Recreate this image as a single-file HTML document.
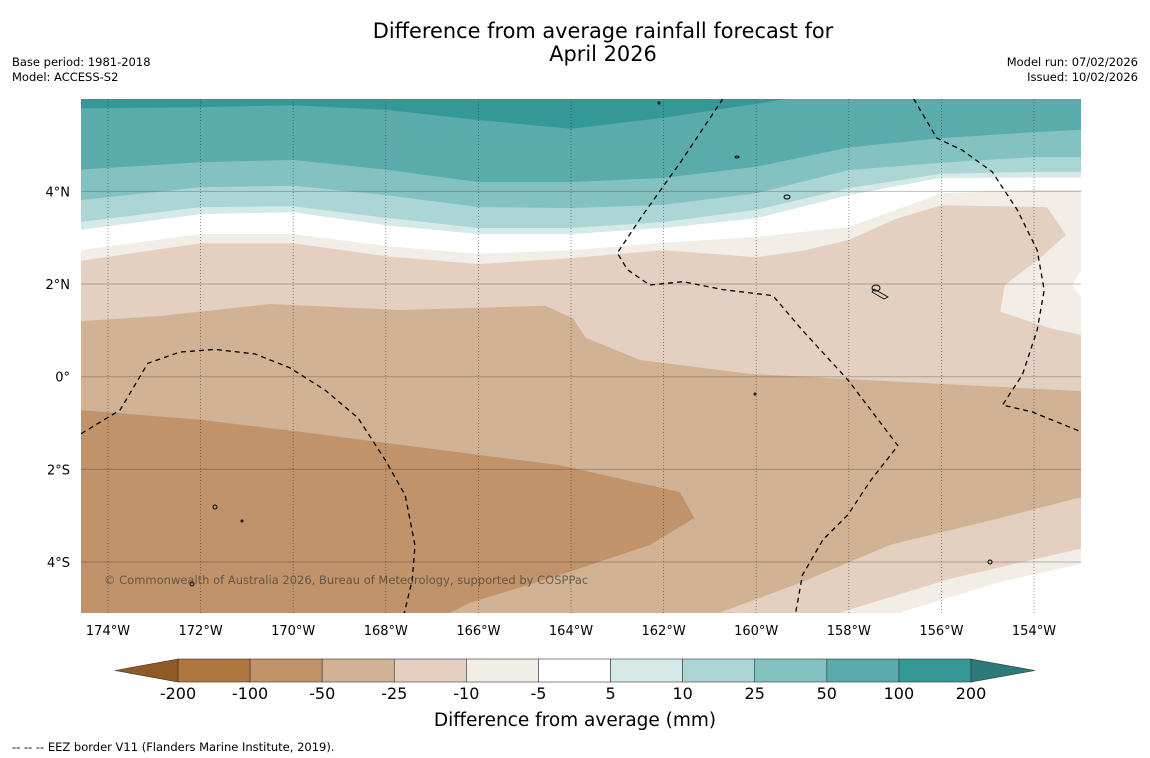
<!DOCTYPE html>
<html><head><meta charset="utf-8"><style>
body{margin:0;background:#fff;font-family:"Liberation Sans","DejaVu Sans",sans-serif;}
svg{display:block}
</style></head><body>
<svg id="s" width="1150" height="758" viewBox="0 0 1150 758" xmlns="http://www.w3.org/2000/svg" font-family="DejaVu Sans, Liberation Sans, sans-serif">
<rect width="1150" height="758" fill="#fff"/>
<text x="603" y="38" font-size="20.9" text-anchor="middle">Difference from average rainfall forecast for</text>
<text x="603" y="61" font-size="20.9" text-anchor="middle">April 2026</text>
<text x="12" y="66" font-size="11.5">Base period: 1981-2018</text>
<text x="12" y="81" font-size="11.5">Model: ACCESS-S2</text>
<text x="1138" y="66" font-size="11.5" text-anchor="end">Model run: 07/02/2026</text>
<text x="1138" y="81" font-size="11.5" text-anchor="end">Issued: 10/02/2026</text>
<defs><clipPath id="mc"><rect x="81" y="99" width="1000" height="514"/></clipPath></defs>
<g id="map" clip-path="url(#mc)"></g>
<g id="axes"></g>
<g id="cbar"></g>
<text x="575" y="726" font-size="18.5" text-anchor="middle">Difference from average (mm)</text>
<text x="12" y="751" font-size="11.5">--  --  -- EEZ border V11 (Flanders Marine Institute, 2019).</text>
</svg>
<script>
const levels=[-200,-100,-50,-25,-10,-5,5,10,25,50,100,200];
const binColors=["#b07840","#c0936a","#d2b294","#e3d0c0","#f2ede7","#ffffff","#d5e9e8","#acd6d5","#84c2c1","#5aabab","#339896"];
const extLow="#8f5a24", extHigh="#2d7a7a";
const baseColor="#c0936a";
// contour curves: region above (north of) curve has value >= level
const cLevels=[-50,-25,-10,-5,5,10,25,50,100];
const cColors=["#d2b294","#e3d0c0","#f2ede7","#ffffff","#d5e9e8","#acd6d5","#84c2c1","#5aabab","#339896"];
const cLons=[
 [-174.58,-172.01,-169.85,-165.97,-164.24,-161.65,-161.34,-162.29,-164.24,-166.18,-166.83],
 [-174.58,-172.88,-170.5,-167.69,-164.56,-163.96,-163.68,-162.51,-160.13,-156.89,-152.98],
 [-174.6,-172,-170,-168,-166,-164,-162,-160,-159,-158,-157,-156,-153.72,-153.31,-153.87,-154.63,-154.73,-153.65,-152.98],
 [-174.6,-172,-170,-168,-166,-164,-162,-160,-158,-156,-154,-152.98],
 [-174.6,-172,-170,-168,-166,-164,-162,-160,-158,-156,-154,-152.98],
 [-174.6,-172,-170,-168,-166,-164,-162,-160,-158,-156,-154,-152.98],
 [-174.6,-172,-170,-168,-166,-164,-162,-160,-158,-156,-154,-152.98],
 [-174.6,-172,-170,-168,-166,-164,-162,-160,-158,-156,-154,-152.98],
 [-174.6,-172,-170,-168,-166,-164,-162,-160,-158,-156,-154,-152.98]
];
const cLats=[
 [-0.72,-0.93,-1.19,-1.69,-1.91,-2.49,-3.05,-3.63,-4.28,-4.88,-5.2],
 [1.20,1.31,1.57,1.44,1.53,1.26,0.84,0.36,0.06,-0.11,-0.31],
 [2.50,2.88,2.88,2.60,2.43,2.56,2.73,2.58,2.72,2.95,3.40,3.70,3.66,3.06,2.56,1.98,1.40,1.05,0.90],
 [2.73,3.08,3.08,2.82,2.65,2.73,2.89,3.02,3.23,3.96,4.03,4.03],
 [3.17,3.51,3.55,3.27,3.08,3.08,3.21,3.42,3.92,4.29,4.30,4.30],
 [3.34,3.66,3.68,3.43,3.21,3.21,3.34,3.60,4.07,4.38,4.42,4.42],
 [3.81,4.09,4.12,3.92,3.66,3.64,3.71,3.96,4.46,4.62,4.74,4.74],
 [4.47,4.63,4.68,4.47,4.20,4.20,4.29,4.53,4.95,5.15,5.28,5.33],
 [5.79,5.82,5.86,5.76,5.54,5.35,5.59,5.89,6.2,6.2,6.2,6.2]
];
// bottom-right patches (region south-east of curve)
const pColors=["#e3d0c0","#f2ede7","#ffffff"];
const pLons=[[-160.78,-159.05,-157.11,-154.73,-152.98],[-158.19,-155.81,-152.98],[-156.89,-154.73,-152.98]];
const pLats=[[-5.09,-4.45,-3.63,-3.05,-2.60],[-5.09,-4.36,-3.71],[-5.09,-4.43,-4.04]];
const notchLons=[-152.98,-153.18,-152.98], notchLats=[2.30,1.98,1.70];
const xTicks=[-174,-172,-170,-168,-166,-164,-162,-160,-158,-156,-154];
const yTicks=[4,2,0,-2,-4];
const eez1Lon=[-174.58,-173.74,-173.14,-172.45,-171.69,-170.82,-170.07,-169.31,-168.6,-168.01,-167.58,-167.37,-167.43,-167.6];
const eez1Lat=[-1.23,-0.72,0.29,0.53,0.59,0.49,0.19,-0.29,-0.89,-1.80,-2.56,-3.64,-4.39,-5.1];
const eez2Lon=[-160.72,-161.6,-162.45,-163.0,-162.78,-162.3,-161.58,-160.72,-159.64,-159.0,-158.02,-156.94,-157.52,-158.02,-158.56,-159.0,-159.15];
const eez2Lat=[6.0,4.68,3.49,2.67,2.31,1.98,2.05,1.88,1.75,1.00,-0.07,-1.49,-2.23,-2.98,-3.52,-4.28,-5.1];
const eez3Lon=[-156.6,-156.1,-155.55,-154.9,-154.36,-153.93,-153.78,-153.93,-154.25,-154.68,-154.04,-152.98];
const eez3Lat=[6.0,5.15,4.89,4.42,3.60,2.73,1.87,1.01,0.04,-0.61,-0.76,-1.19];
const NS="http://www.w3.org/2000/svg";
const xs=lon=>108+(lon+174)*46.3;
const ys=lat=>376.7-lat*46.33;
function mk(tag,attrs,parent){const e=document.createElementNS(NS,tag);for(const k in attrs)e.setAttribute(k,attrs[k]);parent.appendChild(e);return e;}
const map=document.getElementById('map');
let r=mk('rect',{x:81,y:99,width:1000,height:514,fill:baseColor},map);


cLevels.forEach((lv,i)=>{
  let pts=cLons[i].map((l,j)=>xs(l).toFixed(1)+','+ys(cLats[i][j]).toFixed(1));
  pts.push('1090,620','1090,90','70,90');
  const p=mk('polygon',{points:pts.join(' '),fill:cColors[i]},map);
  
  
});
pLons.forEach((arr,i)=>{
  let pts=arr.map((l,j)=>xs(l).toFixed(1)+','+ys(pLats[i][j]).toFixed(1));
  pts.push('1090,620');
  const p=mk('polygon',{points:pts.join(' '),fill:pColors[i]},map);
  
  
});
{let pts=notchLons.map((l,j)=>xs(l)+','+ys(notchLats[j]));pts.push('1090,'+ys(notchLats[2]),'1090,'+ys(notchLats[0]));
const p=mk('polygon',{points:pts.join(' '),fill:'#fff'},map);

}
yTicks.forEach(t=>{const l=mk('line',{x1:81,x2:1081,y1:ys(t),y2:ys(t),stroke:'rgba(60,40,30,0.3)','stroke-width':1},map);

});
xTicks.forEach(t=>{const l=mk('line',{x1:xs(t),x2:xs(t),y1:99,y2:613,stroke:'rgba(40,40,40,0.6)','stroke-width':0.8,'stroke-dasharray':'1,2'},map);

});
[[eez1Lon,eez1Lat],[eez2Lon,eez2Lat],[eez3Lon,eez3Lat]].forEach(([lo,la])=>{
  const d=lo.map((l,j)=>(j?'L':'M')+xs(l).toFixed(1)+','+ys(la[j]).toFixed(1)).join(' ');
  const p=mk('path',{d:d,fill:'none',stroke:'#000','stroke-width':1.3,'stroke-dasharray':'5,4'},map);
  
  
});
[[787,197,3,2],[876,288,4,3],[215,507,2,2],[242,521,1,1],[659,103,1,1],[737,157,2,1],[755,394,1,1],[990,562,2,2],[192,584,2,2]].forEach(a=>{
  const e=mk('ellipse',{cx:a[0],cy:a[1],rx:a[2],ry:a[3],fill:'none',stroke:'#000','stroke-width':1},map);
  
  
});
{const p=mk('path',{d:'M874,289 L888,297 L884,299 L872,292 Z',fill:'none',stroke:'#000','stroke-width':0.8},map);

}
{const t=mk('text',{x:104,y:584,'font-size':11.5,fill:'rgba(60,60,60,0.7)'},map);t.textContent='© Commonwealth of Australia 2026, Bureau of Meteorology, supported by COSPPac';

}
const axes=document.getElementById('axes');
xTicks.forEach(t=>{const e=mk('text',{x:xs(t),y:635,'font-size':13,'text-anchor':'middle'},axes);e.textContent=Math.abs(t)+'°W';

});
yTicks.forEach(t=>{const e=mk('text',{x:70,y:ys(t)+5,'font-size':13,'text-anchor':'end'},axes);e.textContent=t===0?'0°':Math.abs(t)+'°'+(t>0?'N':'S');

});
const cb=document.getElementById('cbar');
const cx=i=>178+i*(971-178)/(levels.length-1);
binColors.forEach((c,i)=>{const e=mk('rect',{x:cx(i),y:659,width:cx(i+1)-cx(i),height:23,fill:c,stroke:'#333','stroke-width':0.6},cb);

});
{const e=mk('polygon',{points:'178,659 115,670.5 178,682',fill:extLow,stroke:'#333','stroke-width':0.6},cb);

}
{const e=mk('polygon',{points:'971,659 1035,670.5 971,682',fill:extHigh,stroke:'#333','stroke-width':0.6},cb);

}
levels.forEach((v,i)=>{const e=mk('text',{x:cx(i),y:699,'font-size':16,'text-anchor':'middle'},cb);e.textContent=v;

});
</script>
</body></html>
